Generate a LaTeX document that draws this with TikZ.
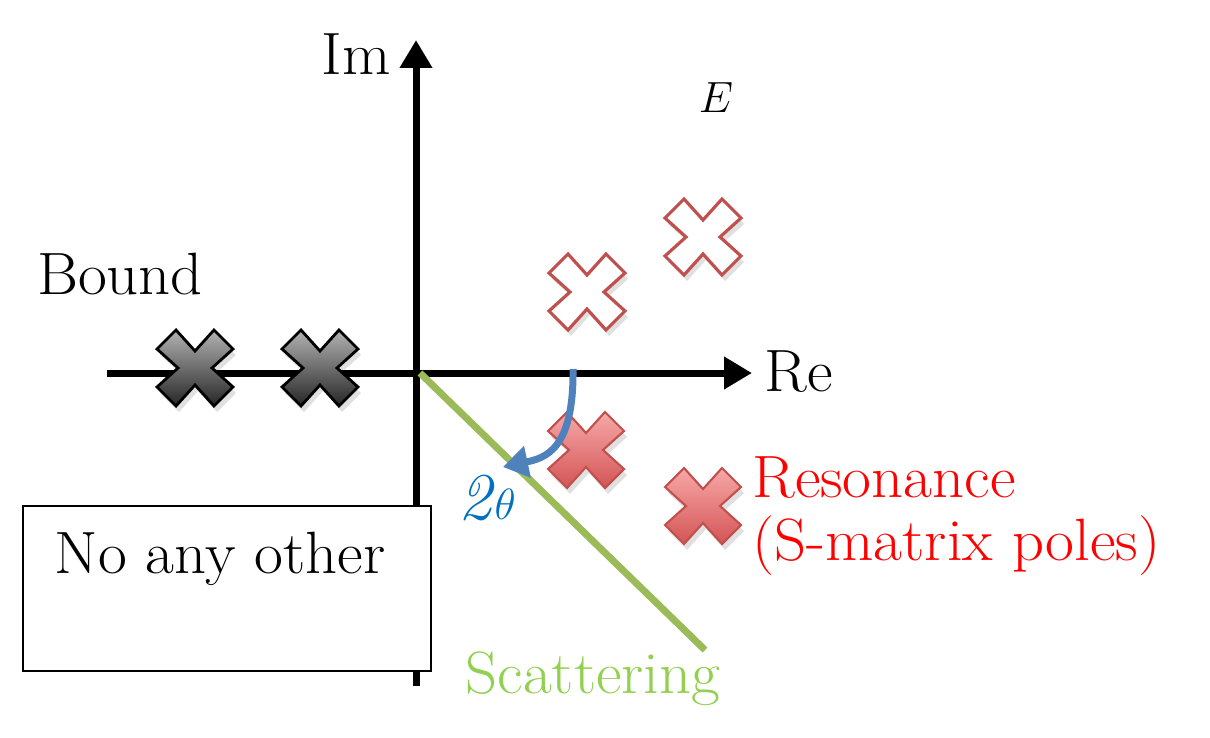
\documentclass[tikz,border=0pt]{standalone}
\usetikzlibrary{arrows.meta}
\definecolor{axisgreen}{HTML}{9BBB59}
\definecolor{txtgreen}{HTML}{92D050}
\definecolor{arrblue}{HTML}{4F81BD}
\definecolor{txtblue}{HTML}{0070C0}
\definecolor{redline}{HTML}{C0504D}
\definecolor{pinktop}{HTML}{F7A8A8}
\definecolor{pinkbot}{HTML}{D45555}
\newcommand{\wid}[1]{\scalebox{1.05}[1]{#1}}
\begin{document}
\begin{tikzpicture}[x=0.02cm,y=-0.02cm,
  lbl/.style={font=\fontsize{34}{40}\selectfont, inner sep=0pt},
  axisline/.style={line width=0.14cm, -{Triangle[length=0.56cm,width=0.62cm]}},
  xshadow/.style={fill=black, opacity=0.12},
  graycross/.style={draw=black, line width=1.6pt, top color=black!30, bottom color=black!85},
  pinkcross/.style={draw=redline, line width=1.2pt, top color=pinktop, bottom color=pinkbot},
  opencross/.style={draw=redline, line width=1.8pt, fill=white},
  pics/xmark/.style={code={
    \path[#1] (0,-17) -- (19,-38) -- (38,-19) -- (17,0) -- (38,19) -- (19,38)
      -- (0,17) -- (-19,38) -- (-38,19) -- (-17,0) -- (-38,-19) -- (-19,-38) -- cycle;
  }}
]
\useasboundingbox (0,0) rectangle (1210,737);

% axis coordinates
\coordinate (O) at (416,373);
\coordinate (xl) at (107,373);
\coordinate (xr) at (752,373);
\coordinate (yb) at (416,686);
\coordinate (yt) at (416,40);

\draw[axisline] (xl) -- (xr);
\draw[axisline] (yb) -- (yt);

% no-any-other box (covers axis)
\node[draw=black, line width=1pt, fill=white, minimum width=8.16cm, minimum height=3.3cm, anchor=north west, inner sep=0pt] (box) at (22,505) {};
\node[lbl, anchor=base] (noany) at (220,573) {\wid{No any other}};

% scattering line
\coordinate (s1) at (420,373);
\coordinate (s2) at (705,650);
\draw[axisgreen, line width=0.14cm] (s1) -- (s2);

% shadows of crosses
\foreach \p in {(198,374),(323,374),(589,456),(706,512),(590,298),(706,243)}
  \pic at \p {xmark=xshadow};

% bound crosses
\pic (b1) at (195,368) {xmark=graycross};
\pic (b2) at (320,368) {xmark=graycross};

% resonance crosses
\pic (r1) at (586,450) {xmark=pinkcross};
\pic (r2) at (703,506) {xmark=pinkcross};

% open crosses
\pic (o1) at (587,292) {xmark=opencross};
\pic (o2) at (703,237) {xmark=opencross};

% rotation arrow
\coordinate (a1) at (573,369);
\coordinate (a2) at (503,467);
\draw[arrblue, line width=0.14cm, -{Triangle[length=0.5cm,width=0.62cm]}]
  (a1) .. controls (574,450) and (545,458) .. (a2);

% labels
\node[lbl, anchor=base] (im) at (356,74) {\wid{Im}};
\node[lbl, anchor=base west] (re) at (764,391) {\wid{Re}};
\node[lbl, anchor=base] (bound) at (120,294) {\wid{Bound}};
\node[font=\fontsize{30}{36}\selectfont, inner sep=0pt, anchor=base] (E) at (716,112) {$E$};
\node[font=\fontsize{38}{44}\selectfont, inner sep=0pt, text=txtblue, anchor=base] (theta) at (487,519) {\textit{2}$\theta$};
\node[lbl, text=red, anchor=base west] (res) at (752,497) {\wid{Resonance}};
\node[lbl, text=red, anchor=base west] (smat) at (752,560) {\wid{(S-matrix poles)}};
\node[lbl, text=txtgreen, anchor=base] (scat) at (593,693) {\wid{Scattering}};
\end{tikzpicture}
\end{document}
